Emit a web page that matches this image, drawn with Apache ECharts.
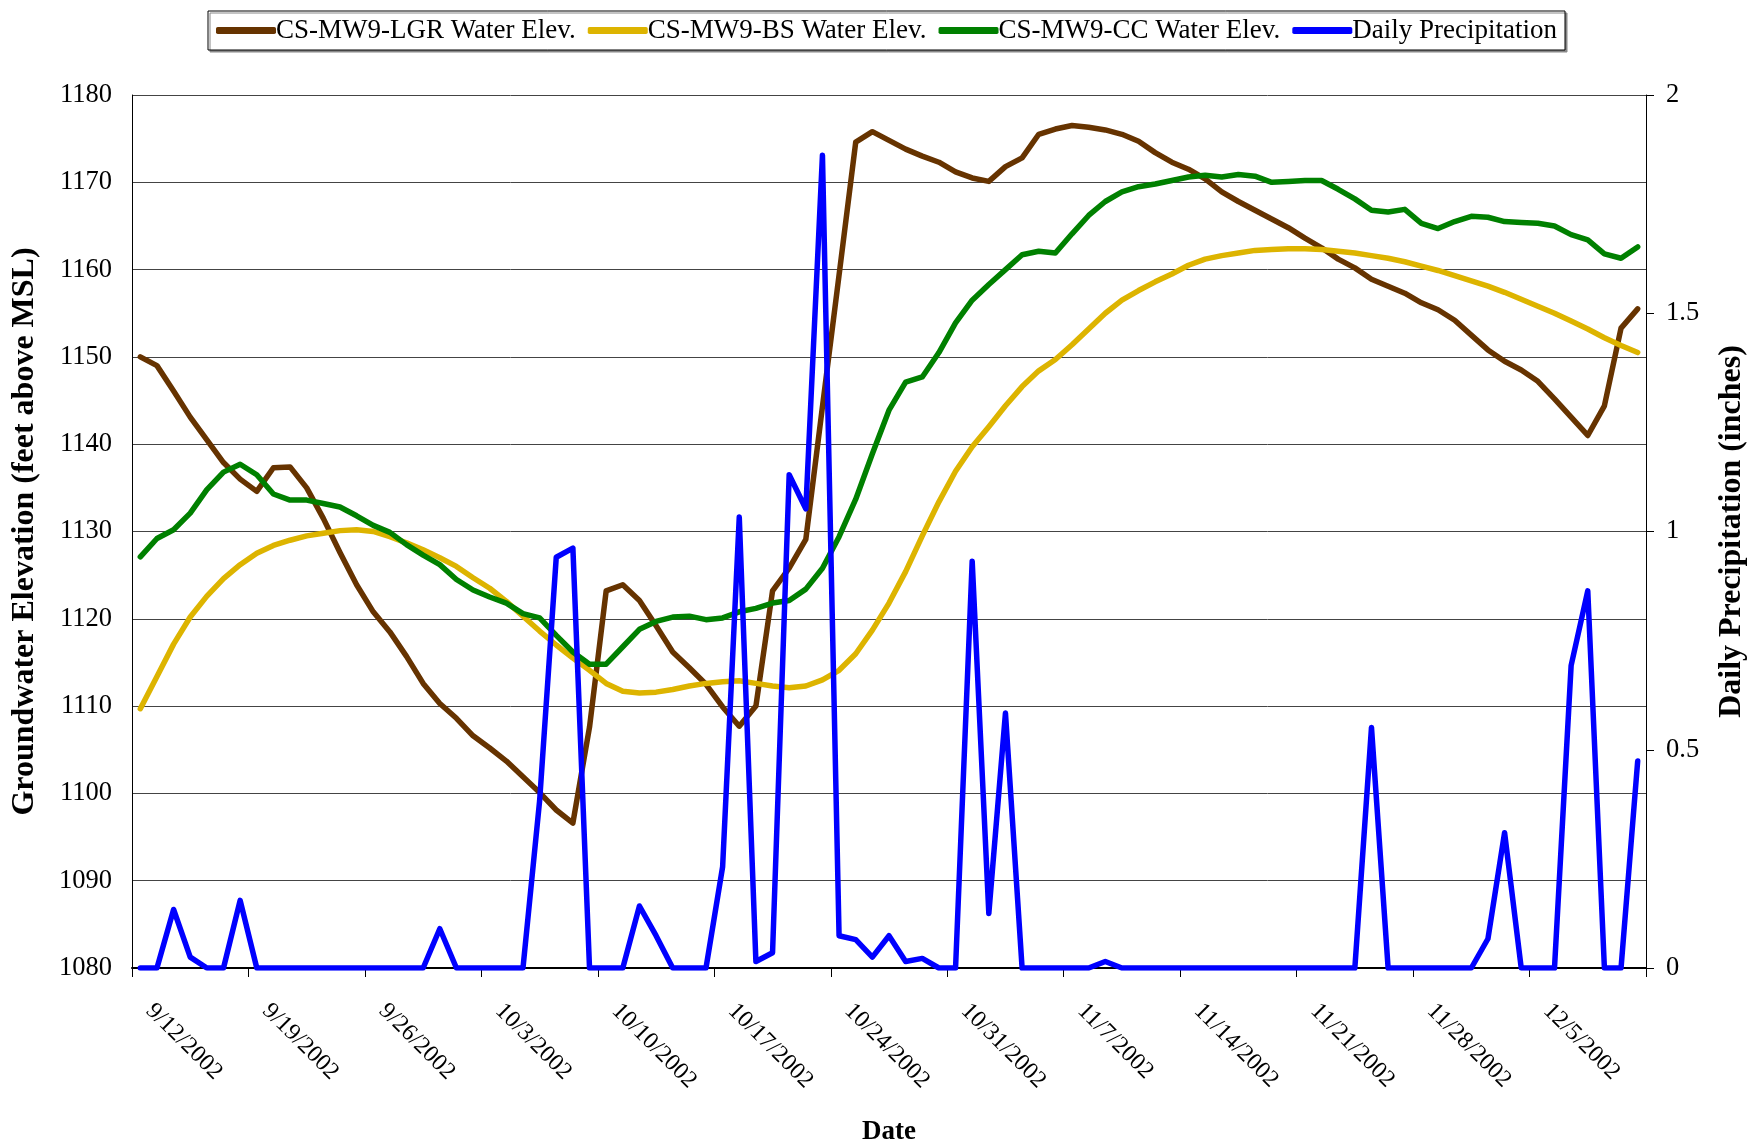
<!DOCTYPE html>
<html>
<head>
<meta charset="utf-8">
<script src="https://cdn.jsdelivr.net/npm/echarts@6/dist/echarts.min.js"></script>
<style>
html,body{margin:0;padding:0;background:#fff;overflow:hidden;width:1747px;height:1143px;}
#chart{width:1747px;height:1143px;position:absolute;left:0;top:0;}
</style>
</head>
<body>
<div id="chart"></div>
<script>
var dates = [
"9/12/2002","9/13/2002","9/14/2002","9/15/2002","9/16/2002","9/17/2002","9/18/2002","9/19/2002","9/20/2002","9/21/2002",
"9/22/2002","9/23/2002","9/24/2002","9/25/2002","9/26/2002","9/27/2002","9/28/2002","9/29/2002","9/30/2002",
"10/1/2002","10/2/2002","10/3/2002","10/4/2002","10/5/2002","10/6/2002","10/7/2002","10/8/2002","10/9/2002","10/10/2002",
"10/11/2002","10/12/2002","10/13/2002","10/14/2002","10/15/2002","10/16/2002","10/17/2002","10/18/2002","10/19/2002","10/20/2002",
"10/21/2002","10/22/2002","10/23/2002","10/24/2002","10/25/2002","10/26/2002","10/27/2002","10/28/2002","10/29/2002","10/30/2002","10/31/2002",
"11/1/2002","11/2/2002","11/3/2002","11/4/2002","11/5/2002","11/6/2002","11/7/2002","11/8/2002","11/9/2002","11/10/2002",
"11/11/2002","11/12/2002","11/13/2002","11/14/2002","11/15/2002","11/16/2002","11/17/2002","11/18/2002","11/19/2002","11/20/2002",
"11/21/2002","11/22/2002","11/23/2002","11/24/2002","11/25/2002","11/26/2002","11/27/2002","11/28/2002","11/29/2002","11/30/2002",
"12/1/2002","12/2/2002","12/3/2002","12/4/2002","12/5/2002","12/6/2002","12/7/2002","12/8/2002","12/9/2002","12/10/2002","12/11/2002"
];

var lgrElev = [
1150.0,1149.0,1146.1,1143.1,1140.5,1137.9,1136.0,1134.6,1137.3,1137.4,1135.0,1131.5,1127.6,1123.9,1120.8,1118.5,1115.7,1112.6,1110.3,
1108.6,1106.6,1105.2,1103.7,1101.9,1100.1,1098.1,1096.6,1107.6,1123.2,1123.9,1122.1,1119.2,1116.2,1114.4,1112.5,1109.9,1107.7,
1110.0,1123.2,1125.8,1129.1,1144.3,1159.4,1174.6,1175.8,1174.8,1173.8,1173.0,1172.3,1171.2,1170.5,1170.1,1171.8,1172.8,1175.5,
1176.1,1176.5,1176.3,1176.0,1175.5,1174.7,1173.4,1172.3,1171.5,1170.4,1168.9,1167.8,1166.8,1165.8,1164.8,1163.6,1162.5,1161.2,
1160.2,1158.9,1158.1,1157.3,1156.2,1155.4,1154.2,1152.5,1150.8,1149.5,1148.5,1147.2,1145.2,1143.1,1141.0,1144.4,1153.3,1155.5
];

var bsElev = [
1109.7,1113.4,1117.1,1120.2,1122.6,1124.6,1126.2,1127.5,1128.4,1129.0,1129.5,1129.8,1130.1,1130.2,1130.0,1129.4,1128.7,1127.9,1127.0,
1126.0,1124.7,1123.5,1122.0,1120.3,1118.6,1117.0,1115.5,1114.1,1112.6,1111.7,1111.5,1111.6,1111.9,1112.3,1112.6,1112.8,1112.9,
1112.6,1112.3,1112.1,1112.3,1113.0,1114.1,1116.0,1118.7,1121.8,1125.4,1129.5,1133.4,1136.9,1139.7,1142.0,1144.4,1146.6,1148.4,
1149.7,1151.4,1153.2,1155.0,1156.5,1157.6,1158.6,1159.5,1160.5,1161.2,1161.6,1161.9,1162.2,1162.3,1162.4,1162.4,1162.3,1162.1,
1161.9,1161.6,1161.3,1160.9,1160.4,1159.9,1159.3,1158.7,1158.1,1157.4,1156.6,1155.8,1155.0,1154.1,1153.2,1152.2,1151.3,1150.5
];

var ccElev = [
1127.1,1129.2,1130.2,1132.1,1134.8,1136.8,1137.7,1136.5,1134.3,1133.6,1133.6,1133.2,1132.8,1131.8,1130.7,1129.9,1128.5,1127.3,1126.2,
1124.5,1123.3,1122.5,1121.8,1120.6,1120.1,1118.1,1116.2,1114.8,1114.8,1116.8,1118.8,1119.7,1120.2,1120.3,1119.9,1120.1,1120.8,
1121.2,1121.8,1122.1,1123.4,1125.8,1129.4,1133.7,1138.9,1143.9,1147.1,1147.7,1150.5,1153.9,1156.5,1158.3,1160.0,1161.7,1162.1,
1161.9,1164.1,1166.2,1167.8,1168.9,1169.5,1169.8,1170.2,1170.6,1170.8,1170.6,1170.9,1170.7,1170.0,1170.1,1170.2,1170.2,1169.2,
1168.1,1166.8,1166.6,1166.9,1165.3,1164.7,1165.5,1166.1,1166.0,1165.5,1165.4,1165.3,1165.0,1164.0,1163.4,1161.8,1161.3,1162.6
];

var precip = [
0,0,0.134,0.025,0,0,0.155,0,0,0,0,0,0,0,0,0,0,0,0.09,
0,0,0,0,0,0.383,0.941,0.962,0,0,0,0.142,0.074,0,0,0,0.232,1.033,
0.015,0.035,1.13,1.052,1.862,0.074,0.065,0.025,0.074,0.015,0.022,0,0,0.932,0.125,0.584,0,0,
0,0,0,0.015,0,0,0,0,0,0,0,0,0,0,0,0,0,0,
0,0.551,0,0,0,0,0,0,0.067,0.31,0,0,0,0.693,0.864,0,0,0.474
];

var seriesNames = ["CS-MW9-LGR Water Elev.","CS-MW9-BS Water Elev.","CS-MW9-CC Water Elev.","Daily Precipitation"];
var seriesColors = ["#663300","#DDB400","#008000","#0000FF"];

var FONT = "'Liberation Serif','Times New Roman',serif";
var chart = echarts.init(document.getElementById('chart'), null, {renderer:'canvas', width:1747, height:1143});

function lineSeries(idx, data, yIdx){
  return {
    name: seriesNames[idx], type:'line', data:data, yAxisIndex:yIdx,
    showSymbol:false, symbol:'none', smooth:false,
    lineStyle:{color:seriesColors[idx], width:5.5, cap:'round', join:'round'},
    itemStyle:{color:seriesColors[idx]},
    animation:false
  };
}

chart.setOption({
  animation:false,
  backgroundColor:'#fff',
  textStyle:{fontFamily:FONT, color:'#000'},
  legend:{
    left:208, top:11,
    itemWidth:60, itemHeight:7, itemGap:12,
    icon:'roundRect',
    padding:[6,8],
    borderColor:'#000', borderWidth:1,
    backgroundColor:'#fff',
    shadowColor:'#888', shadowOffsetX:2, shadowOffsetY:2, shadowBlur:0,
    textStyle:{fontFamily:FONT, fontSize:27, color:'#000', padding:[0,0,0,-5]},
    data:seriesNames
  },
  grid:{left:132, right:101, top:95, bottom:175, containLabel:false, outerBoundsMode:'none'},
  xAxis:{
    type:'category', data:dates, boundaryGap:true,
    axisLine:{show:true, lineStyle:{color:'#000', width:2}},
    axisTick:{show:true, interval:6, length:9, lineStyle:{color:'#000', width:1}},
    axisLabel:{interval:6, rotate:-45, fontSize:24, margin:30, padding:[0,0,0,13], color:'#000', fontFamily:FONT},
    splitLine:{show:false},
    name:'Date', nameLocation:'middle', nameGap:151,
    nameTextStyle:{fontFamily:FONT, fontWeight:'bold', fontSize:27, color:'#000'}
  },
  yAxis:[
    {
      type:'value', min:1080, max:1180, interval:10, position:'left',
      axisLine:{show:true, lineStyle:{color:'#000', width:1}},
      axisTick:{show:false},
      axisLabel:{fontSize:26.5, color:'#000', margin:20, fontFamily:FONT, formatter:function(v){return String(v);}},
      splitLine:{show:true, lineStyle:{color:'#444', width:1}},
      name:'Groundwater Elevation (feet above MSL)', nameLocation:'middle', nameGap:91,
      nameTextStyle:{fontFamily:FONT, fontWeight:'bold', fontSize:32, color:'#000'}
    },
    {
      type:'value', min:0, max:2, interval:0.5, position:'right',
      axisLine:{show:true, lineStyle:{color:'#000', width:1}},
      axisTick:{show:true, length:8, lineStyle:{color:'#000'}},
      axisLabel:{fontSize:26.5, color:'#000', margin:20, fontFamily:FONT, formatter:function(v){return String(v);}},
      splitLine:{show:false},
      name:'Daily Precipitation (inches)', nameLocation:'middle', nameGap:70,
      nameTextStyle:{fontFamily:FONT, fontWeight:'bold', fontSize:32, color:'#000'}
    }
  ],
  series:[
    lineSeries(0, lgrElev, 0),
    lineSeries(1, bsElev, 0),
    lineSeries(2, ccElev, 0),
    lineSeries(3, precip, 1)
  ]
});
</script>
</body>
</html>
